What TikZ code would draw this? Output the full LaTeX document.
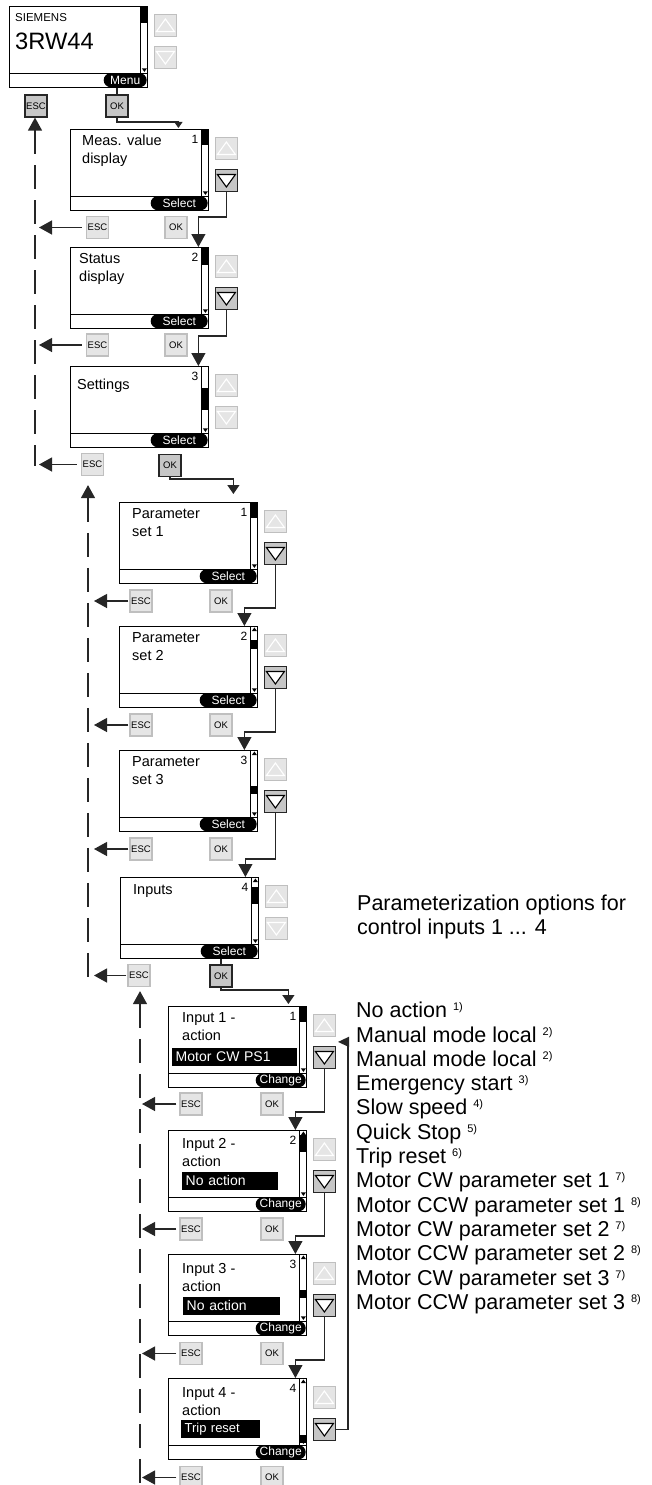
\documentclass[tikz,border=0pt]{standalone}
\usepackage{fontspec}
\setmainfont{Liberation Sans}
\usetikzlibrary{arrows.meta,calc}
\tikzset{
    lcd/.style={draw, line width=1.4pt, minimum width=138pt, minimum height=81pt,
        inner sep=0pt, anchor=north west},
    scrtext/.style={anchor=north west, inner sep=0pt, align=left,
        font=\fontsize{14.5}{18}\selectfont},
    scrnum/.style={anchor=north east, inner sep=0pt, font=\fontsize{12}{12}\selectfont},
    softkey/.style={fill=black, text=white, rounded corners=7pt, minimum width=#1,
        minimum height=14pt, inner sep=0pt, anchor=south east,
        font=\fontsize{12}{12}\selectfont},
    hilite/.style={fill=black, text=white, anchor=north west, inner xsep=3.5pt,
        inner ysep=0pt, minimum height=17.5pt, text width=#1, align=left,
        font=\fontsize{14}{14}\selectfont},
    btn/.style={draw=gray!50, fill=gray!20, line width=1.2pt, minimum size=22pt,
        inner sep=0pt, font=\fontsize{9.5}{9.5}\selectfont},
    btnon/.style={btn, draw=black!85, fill=gray!45},
    tri up/.style={path picture={
        \draw[line width=1.1pt,#1] ([shift={(0pt,6.5pt)}]path picture bounding box.center)
        -- ([shift={(-9pt,-6pt)}]path picture bounding box.center)
        -- ([shift={(9pt,-6pt)}]path picture bounding box.center) -- cycle;}},
    tri down/.style={path picture={
        \draw[line width=1.1pt,#1] ([shift={(0pt,-6.5pt)}]path picture bounding box.center)
        -- ([shift={(-9pt,6pt)}]path picture bounding box.center)
        -- ([shift={(9pt,6pt)}]path picture bounding box.center) -- cycle;}},
    upoff/.style={btn, tri up={draw=white}},
    dnoff/.style={btn, tri down={draw=white}},
    dnon/.style={btnon, tri down={draw=black, fill=white}},
    conn/.style={line width=1.3pt, draw=black!85},
    bigtip/.style={-{Triangle[width=14pt,length=13pt]}},
    dashline/.style={conn, dash pattern=on 24pt off 11pt, {Triangle[width=14pt,length=13pt]}-}
}
% screen: name, x, y, thumb from, thumb to, up mark, number, soft key, key width
\newcommand{\screen}[9]{%
    \node[lcd] (#1) at (#2,#3) {};
    \draw[thick] ([yshift=15pt]#1.south west) -- ([yshift=15pt]#1.south east);
    \draw[thick] ([xshift=-8pt]#1.north east) -- ([xshift=-8pt,yshift=15pt]#1.south east);
    \fill ([xshift=-8pt,yshift=-#4pt]#1.north east) rectangle ([yshift=-#5pt]#1.north east);
    \fill ([shift={(-4pt,16.5pt)}]#1.south east) -- ++(-2.5pt,3.5pt) -- ++(5pt,0pt) -- cycle;
    \ifnum#6=1 \fill ([shift={(-4pt,-1.5pt)}]#1.north east) -- ++(-2.5pt,-3.5pt) -- ++(5pt,0pt) -- cycle;\fi
    \node[scrnum] (#1-n) at ([shift={(-11pt,-6pt)}]#1.north east) {#7};
    \node[softkey=#9] (#1-k) at ([shift={(-1.5pt,1pt)}]#1.south east) {#8};
}
\newcommand{\updown}[3]{%
    \node[#2] (#1-up) at ([shift={(17pt,-19.5pt)}]#1.north east) {};
    \node[#3] (#1-dn) at ([shift={(17pt,-51.5pt)}]#1.north east) {};
}
\newcommand{\fn}[1]{~\raisebox{7pt}{\fontsize{11}{11}\selectfont #1)}}

\begin{document}
\begin{tikzpicture}[x=1pt,y=-1pt]
\useasboundingbox (0,0) rectangle (651,1485);

% start display
\screen{top}{9}{6}{0}{17}{0}{}{Menu}{43pt}
\node[scrtext, font=\fontsize{11.5}{12}\selectfont] (top-a) at (15,13) {SIEMENS};
\node[scrtext, font=\fontsize{23.7}{24}\selectfont] (top-b) at (15,33) {3RW44};
\updown{top}{upoff}{dnoff}
\node[btnon] (top-esc) at (36,106) {ESC};
\node[btnon] (top-ok) at (117,106) {OK};

% menu
\screen{meas}{70}{129}{0}{16}{0}{1}{Select}{57pt}
\node[scrtext] (meas-t) at (82,135) {Meas. value\\display};
\updown{meas}{upoff}{dnon}
\node[btn] (meas-esc) at (97.5,227.5) {ESC};
\node[btn] (meas-ok) at (176,227.5) {OK};

\screen{status}{70}{247}{0}{18}{0}{2}{Select}{57pt}
\node[scrtext] (status-t) at (79,253) {Status\\display};
\updown{status}{upoff}{dnon}
\node[btn] (status-esc) at (97.5,345) {ESC};
\node[btn] (status-ok) at (176,345) {OK};

\screen{settings}{70}{366}{22}{44}{0}{3}{Select}{57pt}
\node[scrtext] (settings-t) at (77,379) {Settings};
\updown{settings}{upoff}{dnoff}
\node[btn] (settings-esc) at (92.5,464.5) {ESC};
\node[btnon] (settings-ok) at (170,465.5) {OK};

% settings
\screen{pset1}{119}{502}{0}{16}{0}{1}{Select}{57pt}
\node[scrtext] (pset1-t) at (132,508) {Parameter\\set 1};
\updown{pset1}{upoff}{dnon}
\node[btn] (pset1-esc) at (141,601) {ESC};
\node[btn] (pset1-ok) at (221,601) {OK};

\screen{pset2}{119}{626}{14}{23}{1}{2}{Select}{57pt}
\node[scrtext] (pset2-t) at (132,632) {Parameter\\set 2};
\updown{pset2}{upoff}{dnon}
\node[btn] (pset2-esc) at (141,725) {ESC};
\node[btn] (pset2-ok) at (221,725) {OK};

\screen{pset3}{119}{750}{36}{44}{1}{3}{Select}{57pt}
\node[scrtext] (pset3-t) at (132,756) {Parameter\\set 3};
\updown{pset3}{upoff}{dnon}
\node[btn] (pset3-esc) at (141,849) {ESC};
\node[btn] (pset3-ok) at (221,849) {OK};

\screen{inputs}{120}{877}{10}{27}{1}{4}{Select}{57pt}
\node[scrtext] (inputs-t) at (133,884) {Inputs};
\updown{inputs}{upoff}{dnoff}
\node[btn] (inputs-esc) at (139,975.5) {ESC};
\node[btnon] (inputs-ok) at (221,976) {OK};

% inputs
\screen{in1}{168}{1006}{0}{16}{0}{1}{Change}{50pt}
\node[scrtext] (in1-t) at (182,1012) {Input 1 -\\action};
\node[hilite=118pt] (in1-v) at (172,1048) {Motor CW PS1};
\updown{in1}{upoff}{dnon}
\node[btn] (in1-esc) at (191,1104) {ESC};
\node[btn] (in1-ok) at (272,1104) {OK};

\screen{in2}{168}{1130}{5}{22}{1}{2}{Change}{50pt}
\node[scrtext] (in2-t) at (182,1138) {Input 2 -\\action};
\node[hilite=89pt] (in2-v) at (182,1172) {No action};
\updown{in2}{upoff}{dnon}
\node[btn] (in2-esc) at (191,1229) {ESC};
\node[btn] (in2-ok) at (272,1229) {OK};

\screen{in3}{168}{1254}{36}{44}{1}{3}{Change}{50pt}
\node[scrtext] (in3-t) at (182,1263) {Input 3 -\\action};
\node[hilite=90pt] (in3-v) at (183,1297) {No action};
\updown{in3}{upoff}{dnon}
\node[btn] (in3-esc) at (191,1353.5) {ESC};
\node[btn] (in3-ok) at (272,1353.5) {OK};

\screen{in4}{168}{1378}{57}{65}{1}{4}{Change}{50pt}
\node[scrtext] (in4-t) at (182,1387) {Input 4 -\\action};
\node[hilite=72pt, font=\fontsize{13}{13}\selectfont] (in4-v) at (181,1420) {Trip reset};
\updown{in4}{upoff}{dnon}
\node[btn] (in4-esc) at (191,1477.5) {ESC};
\node[btn] (in4-ok) at (272,1477.5) {OK};

% options
\node[scrtext, font=\fontsize{21.5}{24}\selectfont] (title) at (357,895)
    {Parameterization options for\\control inputs 1 ... 4};
\node[scrtext, font=\fontsize{21.5}{24.3}\selectfont] (opts) at (356,1002)
    {No action\fn{1}\\Manual mode local\fn{2}\\Manual mode local\fn{2}\\
     Emergency start\fn{3}\\Slow speed\fn{4}\\Quick Stop\fn{5}\\Trip reset\fn{6}\\
     Motor CW parameter set 1\fn{7}\\Motor CCW parameter set 1\fn{8}\\
     Motor CW parameter set 2\fn{7}\\Motor CCW parameter set 2\fn{8}\\
     Motor CW parameter set 3\fn{7}\\Motor CCW parameter set 3\fn{8}};

% return lines
\coordinate (d1) at (35,466);
\coordinate (d2) at (88,978);
\coordinate (d3) at (140,1484);
\draw[dashline] (d1 |- top-esc.south) -- (d1);
\draw[dashline] ($(d2 |- settings-esc.south)+(0,9)$) -- (d2);
\draw[dashline] ($(d3 |- inputs-esc.south)+(0,4)$) -- (d3);
\foreach \s in {meas,status,settings}
    \draw[conn, bigtip, shorten <=4pt, shorten >=4pt] (\s-esc.west) -- (\s-esc.west -| d1);
\foreach \s in {pset1,pset2,pset3,inputs}
    \draw[conn, bigtip, shorten <=1pt, shorten >=6pt] (\s-esc.west) -- (\s-esc.west -| d2);
\foreach \s in {in1,in2,in3,in4}
    \draw[conn, bigtip, shorten <=3pt, shorten >=2pt] (\s-esc.west) -- (\s-esc.west -| d3);

% OK and scroll connectors
\draw[conn] (top.south -| top-ok) -- (top-ok.north);
\draw[conn] (inputs.south -| inputs-ok) -- (inputs-ok.north);
\draw[conn, -{Triangle[width=8pt,length=6pt]}] (top-ok.south)
    |- ([xshift=-31pt,yshift=7pt]meas.north east) -- ([xshift=-31pt,yshift=1pt]meas.north east);
\draw[conn, -{Triangle[width=12pt,length=9pt]}] (settings-ok.south)
    |- ([xshift=-25pt,yshift=23pt]pset1.north east) -- ([xshift=-25pt,yshift=8pt]pset1.north east);
\draw[conn, -{Triangle[width=12pt,length=9pt]}] (inputs-ok.south)
    |- ([xshift=-19pt,yshift=16pt]in1.north east) -- ([xshift=-19pt,yshift=2pt]in1.north east);
\foreach \a/\b in {meas/status,status/settings}
    \draw[conn, bigtip] (\a-dn.south) |- ([xshift=-11pt,yshift=30pt]\b.north east)
        -- ([xshift=-11pt]\b.north east);
\foreach \a/\b in {pset1/pset2,pset2/pset3,pset3/inputs}
    \draw[conn, bigtip] (\a-dn.south) |- ([xshift=-14pt,yshift=18pt]\b.north east)
        -- ([xshift=-14pt]\b.north east);
\foreach \a/\b in {in1/in2,in2/in3,in3/in4}
    \draw[conn, bigtip] (\a-dn.south) |- ([xshift=-12pt,yshift=18pt]\b.north east)
        -- ([xshift=-12pt]\b.north east);
\draw[conn, -{Triangle[width=10pt,length=11pt]}] (in4-dn.east) -- ++(12pt,0pt)
    |- ([shift={(2pt,4pt)}]in1-dn.north east);
\end{tikzpicture}
\end{document}
